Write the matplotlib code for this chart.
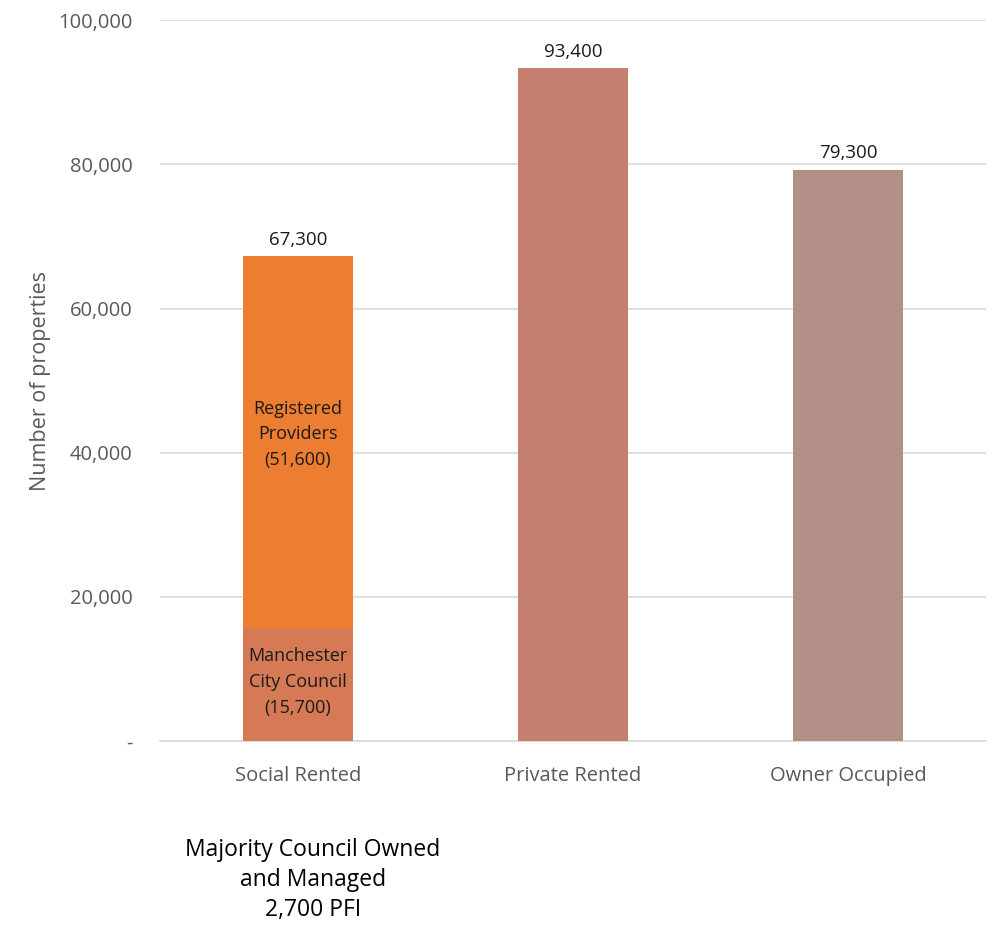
import matplotlib.pyplot as plt
from matplotlib.ticker import FuncFormatter

plt.rcParams['font.family'] = ['Open Sans', 'DejaVu Sans']

categories = ['Social Rented', 'Private Rented', 'Owner Occupied']
council = [15700, 0, 0]
providers = [51600, 0, 0]
totals = [67300, 93400, 79300]
single_values = [0, 93400, 79300]
bar_colors = ['#ED7D31', '#C5806F', '#B38F88']
council_color = '#D57A55'

fig = plt.figure(figsize=(9.94, 9.25), dpi=100)
ax = fig.add_axes([0.161, 0.199, 0.831, 0.779])

x = list(range(len(categories)))
w = 0.4

# stacked social rented
ax.bar(x[0], council[0], width=w, color=council_color, zorder=3)
ax.bar(x[0], providers[0], width=w, bottom=council[0], color=bar_colors[0], zorder=3)
# the other two
ax.bar(x[1:], single_values[1:], width=w, color=bar_colors[1:], zorder=3)

for i, t in enumerate(totals):
    ax.text(x[i], t + 1000, f'{t:,}', ha='center', va='bottom', fontsize=13.5, color='#1a1a1a')

ax.text(x[0], council[0] + providers[0] * 0.52, f'Registered\nProviders\n({providers[0]:,})',
        ha='center', va='center', fontsize=13, color='#1a1a1a', linespacing=1.55)
ax.text(x[0], council[0] * 0.52, f'Manchester\nCity Council\n({council[0]:,})',
        ha='center', va='center', fontsize=13, color='#1a1a1a', linespacing=1.55)

ax.set_xlim(-0.5, 2.5)
ax.set_ylim(0, 100000)
ax.set_yticks(range(0, 100001, 20000))
ax.yaxis.set_major_formatter(FuncFormatter(lambda v, p: '-' if v == 0 else f'{int(v):,}'))
ax.set_xticks(x)
ax.set_xticklabels(categories)
ax.tick_params(axis='both', length=0, labelsize=14.5, colors='#595959')
ax.tick_params(axis='x', pad=18)
ax.tick_params(axis='y', pad=20)
ax.set_ylabel('Number of properties', fontsize=15.5, color='#595959', labelpad=5)

ax.grid(axis='y', color='#D9D9D9', linewidth=1.2, zorder=0)
for s in ['top', 'right', 'left']:
    ax.spines[s].set_visible(False)
ax.spines['bottom'].set_color('#D9D9D9')
ax.spines['bottom'].set_linewidth(1.2)

fig.text(0.315, 0.0486, 'Majority Council Owned\nand Managed\n2,700 PFI', ha='center', va='center',
         fontsize=16.5, color='black', linespacing=1.32)

fig.savefig('out.png', dpi=100)
